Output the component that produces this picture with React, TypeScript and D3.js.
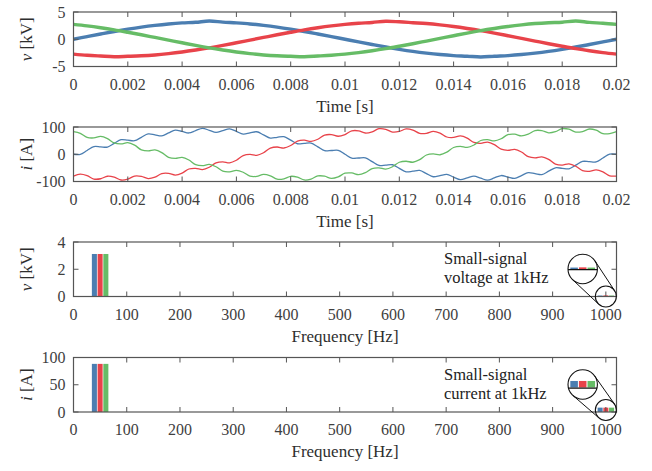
import * as d3 from "d3";

const W = 652;
const H = 471;
const X0 = 73.5;
const X1 = 616.5;
const PANEL_H = 54.5;
const panelTops = [12, 127, 242, 357.5];

const phases = ["a", "b", "c"];
const phaseColors = ["#4B7EB1", "#E8434A", "#66BC66"];

const timeTicks = [0, 0.002, 0.004, 0.006, 0.008, 0.01, 0.012, 0.014, 0.016, 0.018, 0.02];
const freqTicks = [0, 100, 200, 300, 400, 500, 600, 700, 800, 900, 1000];
const vTimeTicks = [-5, 0, 5];
const iTimeTicks = [-100, 0, 100];
const vFreqTicks = [0, 2, 4];
const iFreqTicks = [0, 50, 100];

// phase voltages [kV], one sample every 0.5 ms
const vStep = 0.0005;
const vA = [0, 0.49, 0.97, 1.43, 1.85, 2.23, 2.55, 2.81, 3.0, 3.11, 3.35, 3.15, 3.0, 2.81, 2.55, 2.23, 1.85, 1.43, 0.97, 0.49, 0, -0.49, -0.97, -1.43, -1.85, -2.23, -2.55, -2.81, -3.0, -3.11, -3.25, -3.11, -3.0, -2.81, -2.55, -2.23, -1.85, -1.43, -0.97, -0.49, 0];
const vB = [-2.73, -2.94, -3.08, -3.2, -3.13, -3.04, -2.88, -2.64, -2.34, -1.98, -1.58, -1.13, -0.65, -0.16, 0.33, 0.82, 1.28, 1.72, 2.11, 2.45, 2.73, 2.94, 3.08, 3.3, 3.2, 3.04, 2.88, 2.64, 2.34, 1.98, 1.58, 1.13, 0.65, 0.16, -0.33, -0.82, -1.28, -1.72, -2.11, -2.45, -2.73];
const vC = [2.73, 2.45, 2.11, 1.72, 1.28, 0.82, 0.33, -0.16, -0.65, -1.13, -1.58, -1.98, -2.34, -2.64, -2.88, -3.04, -3.13, -3.2, -3.08, -2.94, -2.73, -2.45, -2.11, -1.72, -1.28, -0.82, -0.33, 0.16, 0.65, 1.13, 1.58, 1.98, 2.34, 2.64, 2.88, 3.04, 3.13, 3.35, 3.1, 2.94, 2.73];

// phase currents [A], one sample every 0.25 ms
const iStep = 0.00025;
const iA = [
  0, -0.6, 13.8, 28, 27.2, 26.2, 40, 53.5, 51.7, 49.6,
  62.2, 74.4, 71.2, 67.5, 78.4, 88.8, 83.7, 78.1, 86.9, 95.2,
  88, 80.2, 86.9, 93.1, 83.7, 73.8, 78.4, 82.5, 71.2, 59.4,
  62.2, 64.6, 51.7, 38.5, 40, 41.2, 27.2, 13, 13.8, 14.4,
  0, -14.4, -13.8, -13, -27.2, -41.2, -40, -38.5, -51.7, -64.6,
  -62.2, -59.4, -71.2, -82.5, -78.4, -73.8, -83.7, -93.1, -86.9, -80.2,
  -88, -95.2, -86.9, -78.1, -83.7, -88.8, -78.4, -67.5, -71.2, -74.4,
  -62.2, -49.6, -51.7, -53.5, -40, -26.2, -27.2, -28, -13.8, 0.6,
  0,
];
const iB = [
  -80, -72.9, -78.4, -90.9, -89.9, -80.7, -84.1, -94.5, -91.3, -80,
  -81.2, -89.4, -84.2, -70.8, -70, -76.3, -69.2, -54.1, -51.6, -56.3,
  -47.8, -31.4, -27.7, -31.5, -22.1, -5, -0.8, -4.2, 5.4, 22.5,
  26.6, 22.9, 32, 48.5, 51.7, 47.1, 55.1, 70.3, 72.2, 66,
  72.4, 85.9, 86, 77.9, 82.3, 93.7, 91.7, 81.5, 83.7, 93,
  88.8, 76.4, 76.6, 83.8, 77.6, 63.3, 61.6, 67.1, 59.2, 43.3,
  40.2, 44.4, 35.3, 18.5, 14.5, 18, 8.4, -8.8, -13, -9.5,
  -19, -35.9, -39.6, -35.5, -44.1, -60.1, -62.7, -57.3, -64.6, -79,
  -80,
];
const iC = [
  82.7, 76.3, 61.9, 60, 65.4, 57.4, 41.4, 38.2, 42.3, 33.2,
  16.3, 12.2, 15.7, 6.1, -11.1, -15.3, -11.8, -21.2, -38, -41.7,
  -37.5, -46, -61.9, -64.4, -58.9, -66, -80.3, -81.1, -73.9, -79.1,
  -91.5, -90.3, -81, -84.2, -94.4, -91, -79.6, -80.6, -88.7, -83.2,
  -69.7, -68.7, -74.9, -67.6, -52.4, -49.8, -54.4, -45.8, -29.3, -25.6,
  -29.3, -19.8, -2.7, 1.5, -1.9, 7.7, 24.8, 28.8, 25, 34.1,
  50.5, 53.6, 48.9, 56.8, 71.9, 73.6, 67.3, 73.5, 86.9, 86.7,
  78.5, 82.7, 94, 91.8, 81.4, 83.4, 92.6, 88.2, 75.7, 75.6,
  82.7,
];

// spectrum amplitudes at 50 Hz and the 1 kHz small signal
const spectrumFreqs = [50, 1000];
const vSpecA = [3.12, 0.07];
const vSpecB = [3.12, 0.08];
const vSpecC = [3.12, 0.07];
const iSpecA = [88.3, 8];
const iSpecB = [88.3, 8];
const iSpecC = [88.3, 8];

const FONT = "'Liberation Serif', 'Times New Roman', serif";
const TICK_COLOR = "#3f3f3f";
const FRAME_COLOR = "#555";

const timeX = d3.scaleLinear().domain([0, 0.02]).range([X0, X1]);
const freqX = d3.scaleLinear().domain([0, 1020]).range([X0, X1]);

type Scale = d3.ScaleLinear<number, number>;

function Frame({ top, x, y, xTicks, yTicks, xFmt, xLabel, yLabel }: {
  top: number; x: Scale; y: Scale; xTicks: number[]; yTicks: number[];
  xFmt: (v: number) => string; xLabel: string; yLabel: [string, string];
}) {
  const bottom = top + PANEL_H;
  const tl = 5;
  return (
    <g fontFamily={FONT}>
      <rect x={X0} y={top} width={X1 - X0} height={PANEL_H} fill="none" stroke={FRAME_COLOR} strokeWidth={1.2} />
      {xTicks.map((t) => (
        <g key={`xt${t}`} stroke={FRAME_COLOR} strokeWidth={1}>
          <line x1={x(t)} x2={x(t)} y1={bottom} y2={bottom - tl} />
          <line x1={x(t)} x2={x(t)} y1={top} y2={top + tl} />
        </g>
      ))}
      {yTicks.map((t) => (
        <g key={`yt${t}`} stroke={FRAME_COLOR} strokeWidth={1}>
          <line x1={X0} x2={X0 + tl} y1={y(t)} y2={y(t)} />
          <line x1={X1} x2={X1 - tl} y1={y(t)} y2={y(t)} />
        </g>
      ))}
      {xTicks.map((t) => (
        <text key={`xl${t}`} x={x(t)} y={bottom + 23} textAnchor="middle" fontSize={16} fill={TICK_COLOR}>
          {xFmt(t)}
        </text>
      ))}
      {yTicks.map((t) => (
        <text key={`yl${t}`} x={X0 - 8} y={y(t)} dy="0.35em" textAnchor="end" fontSize={16} fill={TICK_COLOR}>
          {String(t)}
        </text>
      ))}
      <text x={(X0 + X1) / 2} y={bottom + 45} textAnchor="middle" fontSize={17} fill="#2e2e2e">
        {xLabel}
      </text>
      <text transform={`translate(32,${top + PANEL_H / 2}) rotate(-90)`} textAnchor="middle" fontSize={17} fill="#2e2e2e">
        <tspan fontStyle="italic">{yLabel[0]}</tspan>
        {` ${yLabel[1]}`}
      </text>
    </g>
  );
}

function TimePanel({ top, series, step, domain, ticks, yLabel, width }: {
  top: number; series: number[][]; step: number; domain: [number, number];
  ticks: number[]; yLabel: [string, string]; width: number;
}) {
  const y = d3.scaleLinear().domain(domain).range([top + PANEL_H, top]);
  const line = d3
    .line<number>()
    .x((_, i) => timeX(i * step))
    .y((v) => y(v))
    .curve(d3.curveCatmullRom.alpha(0.5));
  const clipId = `clip-${top}`;
  return (
    <g>
      <clipPath id={clipId}>
        <rect x={X0} y={top} width={X1 - X0} height={PANEL_H} />
      </clipPath>
      <g clipPath={`url(#${clipId})`}>
        {series.map((s, k) => (
          <path key={k} d={line(s) ?? ""} fill="none" stroke={phaseColors[k]} strokeWidth={width} strokeLinejoin="round" />
        ))}
      </g>
      <Frame top={top} x={timeX} y={y} xTicks={timeTicks} yTicks={ticks} xFmt={(v) => d3.format("~g")(v)} xLabel="Time [s]" yLabel={yLabel} />
    </g>
  );
}

function tangents(c1: [number, number], r1: number, c2: [number, number], r2: number) {
  const dx = c2[0] - c1[0];
  const dy = c2[1] - c1[1];
  const L = Math.hypot(dx, dy);
  const a = Math.atan2(dy, dx);
  const b = Math.acos((r1 - r2) / L);
  return [a + b, a - b].map((ang) => [
    [c1[0] + r1 * Math.cos(ang), c1[1] + r1 * Math.sin(ang)],
    [c2[0] + r2 * Math.cos(ang), c2[1] + r2 * Math.sin(ang)],
  ]);
}

function FreqPanel({ top, spec, domain, ticks, yLabel, note, smallDy }: {
  top: number; spec: number[][]; domain: [number, number]; ticks: number[];
  yLabel: [string, string]; note: [string, string]; smallDy: number;
}) {
  const bottom = top + PANEL_H;
  const y = d3.scaleLinear().domain(domain).range([bottom, top]);
  const bars = spectrumFreqs.flatMap((f, j) => {
    const band = d3.scaleBand().domain(phases).range([freqX(f - 15.5), freqX(f + 15.5)]).paddingInner(0.12);
    return phases.map((p, k) => ({
      key: `${f}-${p}`,
      x: band(p) ?? 0,
      w: band.bandwidth(),
      y: y(spec[k][j]),
      h: bottom - y(spec[k][j]),
      color: phaseColors[k],
    }));
  });
  const barMarks = bars.map((b) => <rect key={b.key} x={b.x} y={b.y} width={b.w} height={b.h} fill={b.color} />);

  const small: [number, number] = [freqX(1000), bottom - smallDy];
  const rs = 10.5;
  const big: [number, number] = [582.7, top + 27];
  const rb = 14.7;
  const k = 1.5;
  const tl = tangents(big, rb, small, rs);
  const zoomId = `zoom-${top}`;
  return (
    <g>
      {barMarks}
      <Frame top={top} x={freqX} y={y} xTicks={freqTicks} yTicks={ticks} xFmt={(v) => String(v)} xLabel="Frequency [Hz]" yLabel={yLabel} />
      <text fontFamily={FONT} fontSize={16.5} fill="#222">
        <tspan x={444} y={top + 22}>{note[0]}</tspan>
        <tspan x={444} y={top + 41}>{note[1]}</tspan>
      </text>
      <clipPath id={zoomId}>
        <circle cx={big[0]} cy={big[1]} r={rb} />
      </clipPath>
      <circle cx={big[0]} cy={big[1]} r={rb} fill="#fff" />
      <g clipPath={`url(#${zoomId})`}>
        <g transform={`translate(${big[0]},${big[1]}) scale(${k}) translate(${-small[0]},${-small[1]})`}>
          {barMarks}
          <line x1={small[0] - 40} x2={small[0] + 40} y1={bottom + 0.45} y2={bottom + 0.45} stroke="#111" strokeWidth={0.9} />
        </g>
      </g>
      <circle cx={big[0]} cy={big[1]} r={rb} fill="none" stroke="#111" strokeWidth={1.1} />
      <circle cx={small[0]} cy={small[1]} r={rs} fill="none" stroke="#111" strokeWidth={1.1} />
      {tl.map((s, i) => (
        <line key={i} x1={s[0][0]} y1={s[0][1]} x2={s[1][0]} y2={s[1][1]} stroke="#111" strokeWidth={1} />
      ))}
    </g>
  );
}

export default function App() {
  return (
    <svg width={W} height={H} viewBox={`0 0 ${W} ${H}`} style={{ position: "absolute", left: 0, top: 0, background: "#fff" }}>
      <rect width={W} height={H} fill="#fff" />
      <TimePanel top={panelTops[0]} series={[vA, vB, vC]} step={vStep} domain={[-5, 5]} ticks={vTimeTicks} yLabel={["v", "[kV]"]} width={3.4} />
      <TimePanel top={panelTops[1]} series={[iA, iB, iC]} step={iStep} domain={[-100, 100]} ticks={iTimeTicks} yLabel={["i", "[A]"]} width={1.3} />
      <FreqPanel top={panelTops[2]} spec={[vSpecA, vSpecB, vSpecC]} domain={[0, 4]} ticks={vFreqTicks} yLabel={["v", "[kV]"]} note={["Small-signal", "voltage at 1kHz"]} smallDy={0} />
      <FreqPanel top={panelTops[3]} spec={[iSpecA, iSpecB, iSpecC]} domain={[0, 100]} ticks={iFreqTicks} yLabel={["i", "[A]"]} note={["Small-signal", "current at 1kHz"]} smallDy={2} />
    </svg>
  );
}
